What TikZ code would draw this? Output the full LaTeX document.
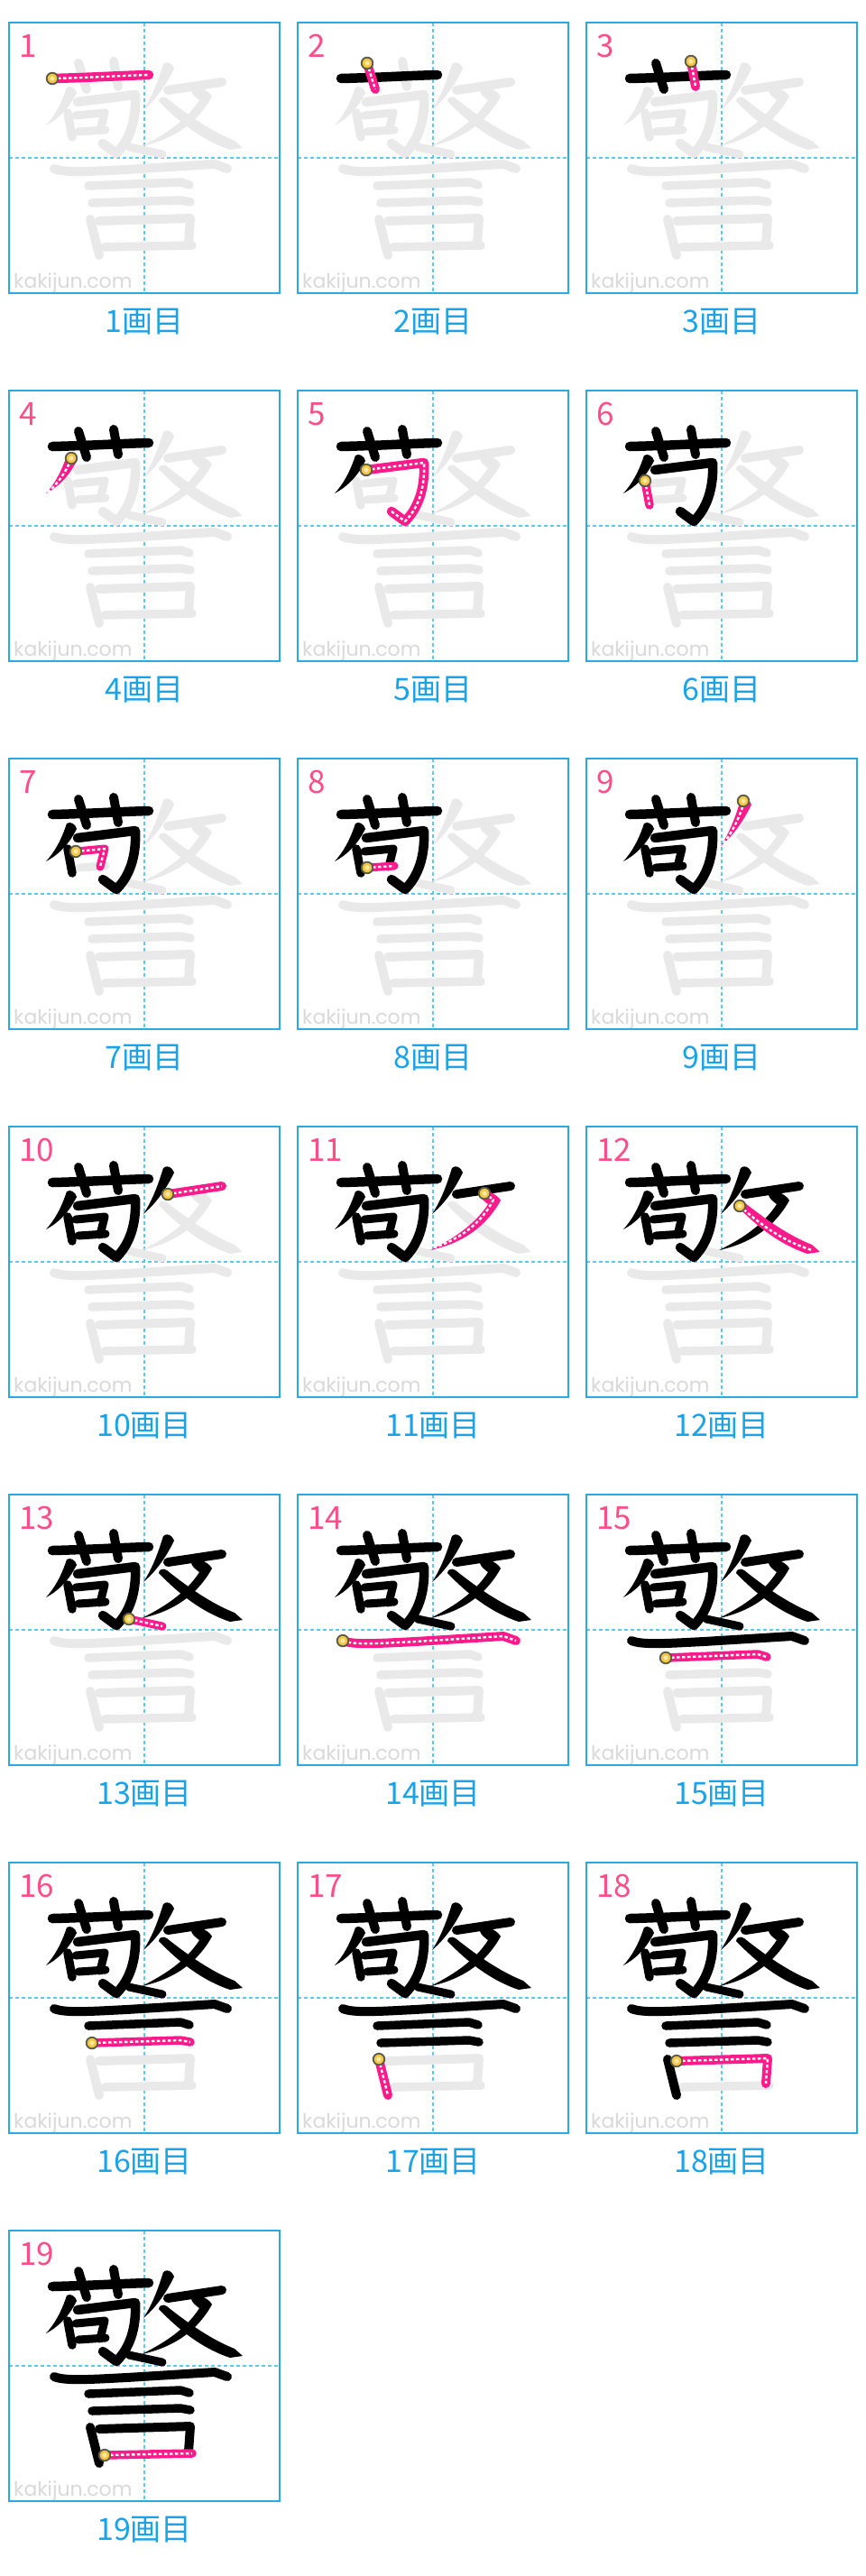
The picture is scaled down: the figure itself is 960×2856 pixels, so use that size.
\documentclass[tikz,border=0pt]{standalone}
\usepackage{fontspec}
\newfontfamily\jp{Noto Sans CJK JP}
\newfontfamily\wmfont{Poppins}
\definecolor{frameblue}{HTML}{29ABE2}
\definecolor{guideblue}{HTML}{5CC8F5}
\definecolor{ghost}{HTML}{E9E9E9}
\definecolor{cur}{HTML}{FF1A8C}
\definecolor{numpink}{HTML}{FF4D88}
\definecolor{labblue}{HTML}{1AA3E8}
\definecolor{dotfill}{HTML}{F2C744}
\definecolor{dotin}{HTML}{FBE7A8}
\definecolor{dotring}{HTML}{5A5A4A}
\definecolor{wmgray}{HTML}{D9D9D9}
% centre line of each stroke
\newcommand\cl[2]{%
\ifcase#1\or
\draw[#2] (48,62) .. controls (90,61) and (120,59) .. (155,58);\or
\draw[#2] (77,45) -- (86,74);\or
\draw[#2] (116,43) -- (121,71);\or
\draw[#2] (69,76) .. controls (62,92) and (54,103) .. (43,113);\or
\draw[#2] (76,88) -- (140,80) .. controls (141,102) and (137,127) .. (119,145) -- (104,134);\or
\draw[#2] (65,100) -- (70,127);\or
\draw[#2] (74,103) -- (106,100) -- (101,120);\or
\draw[#2] (77,121) -- (107,119);\or
\draw[#2] (175,48) .. controls (170,64) and (163,80) .. (152,94);\or
\draw[#2] (176,75) -- (236,66);\or
\draw[#2] (207,74) -- (217,81) .. controls (205,105) and (182,124) .. (152,134);\or
\draw[#2] (170,88) .. controls (190,106) and (215,126) .. (250,137);\or
\draw[#2] (133,138) -- (170,146);\or
\draw[#2] (50,162) .. controls (62,167) and (90,165) .. (130,163) -- (228,157) -- (242,162);\or
\draw[#2] (88,181) -- (190,177) -- (200,180);\or
\draw[#2] (92,200) -- (190,197) -- (201,199);\or
\draw[#2] (90,218) -- (100,258);\or
\draw[#2] (100,220) -- (201,217) -- (199,245);\or
\draw[#2] (106,249) -- (203,247);\fi}
% full shape of each stroke
\newcommand\drawstroke[2]{%
\ifcase#1\or
\cl{1}{#2,line width=10.5pt,lc}\or
\cl{2}{#2,line width=10pt,lc}\or
\cl{3}{#2,line width=10pt,lc}\or
\fill[#2] (64,72) .. controls (58,90) and (51,103) .. (41,114) .. controls (56,106) and (67,94) .. (75,78) .. controls (74,73) and (68,69) .. (64,72) -- cycle;\or
\cl{5}{#2,line width=10.5pt,lc}\or
\cl{6}{#2,line width=9.5pt,lc}\or
\cl{7}{#2,line width=9pt,lc}\or
\cl{8}{#2,line width=9pt,lc}\or
\fill[#2] (171,46) .. controls (166,62) and (160,80) .. (149,97) .. controls (162,86) and (174,70) .. (183,51) .. controls (181,45) and (175,42) .. (171,46) -- cycle;\or
\cl{10}{#2,line width=10pt,lc}\or
\fill[#2] (205,70) .. controls (213,72) and (222,76) .. (225,82) .. controls (210,109) and (185,129) .. (147,137) .. controls (178,122) and (199,105) .. (211,86) .. controls (207,83) and (203,80) .. (202,76) -- cycle;\or
\fill[#2] (166,87) .. controls (189,111) and (215,131) .. (245,141) -- (259,139) -- (250,131) .. controls (225,121) and (200,104) .. (175,84) .. controls (171,81) and (166,83) .. (166,87) -- cycle;\or
\cl{13}{#2,line width=9pt,lc}\or
\cl{14}{#2,line width=10pt,lc}\or
\cl{15}{#2,line width=9.5pt,lc}\or
\cl{16}{#2,line width=9.5pt,lc}\or
\cl{17}{#2,line width=10pt,lc}\or
\cl{18}{#2,line width=10pt,lc}\or
\cl{19}{#2,line width=9.5pt,lc}\fi}
\newcommand\startdot[2]{\fill[dotfill,draw=dotring,line width=1.8pt] (#1,#2) circle[radius=6.3pt];
\fill[dotin] (#1,#2) circle[radius=2.6pt];}
\newcommand\dotat[1]{%
\ifcase#1\or
\startdot{48}{62}\or\startdot{77}{45}\or\startdot{116}{43}\or\startdot{69}{75}\or
\startdot{76}{88}\or\startdot{65}{100}\or\startdot{74}{103}\or\startdot{77}{121}\or
\startdot{174}{47}\or\startdot{176}{75}\or\startdot{207}{74}\or\startdot{170}{88}\or
\startdot{133}{138}\or\startdot{50}{162}\or\startdot{88}{181}\or\startdot{92}{200}\or
\startdot{90}{218}\or\startdot{100}{220}\or\startdot{106}{249}\fi}
\tikzset{
 lc/.style={line cap=round,line join=round},
 guide/.style={guideblue,line width=2pt,dash pattern=on 4pt off 3pt},
 frame/.style={frameblue,line width=1.5pt},
 wd/.style={white,line width=2.4pt,dash pattern=on 3.5pt off 2.5pt,line cap=butt,line join=round},
 num/.style={anchor=base west,text=numpink,font=\jp\fontsize{35}{35}\selectfont,inner sep=0pt},
 lab/.style={text=labblue,font=\jp\fontsize{34}{34}\selectfont,inner sep=0pt},
 wm/.style={anchor=base west,text=wmgray,font=\wmfont\fontsize{22}{22}\selectfont,inner sep=0pt},
}
\begin{document}
\begin{tikzpicture}[x=1pt,y=-1pt]
\useasboundingbox[fill=white] (0,0) rectangle (960,2856);
\foreach \pn in {1,...,19}{
 \pgfmathtruncatemacro\col{mod(\pn-1,3)}
 \pgfmathtruncatemacro\row{(\pn-1)/3}
 \pgfmathtruncatemacro\xo{10+320*\col}
 \pgfmathtruncatemacro\yo{25+408*\row}
 \pgfmathtruncatemacro\km{\pn-1}
 \pgfmathtruncatemacro\kp{\pn+1}
 \begin{scope}[shift={(\xo,\yo)}]
  \draw[guide] (150,0) -- (150,300);
  \draw[guide] (0,150) -- (300,150);
  \node[wm] (wm\pn) at (5,294) {kakijun.com};
  \ifnum\pn<19
   \foreach \sn in {\kp,...,19}{\drawstroke{\sn}{ghost}}
  \fi
  \ifnum\pn>1
   \foreach \sn in {1,...,\km}{\drawstroke{\sn}{black}}
  \fi
  \drawstroke{\pn}{cur}
  \cl{\pn}{wd}
  \dotat{\pn}
  \draw[frame] (0,0) rectangle (300,300);
  \node[num] (num\pn) at (11,38) {\pn};
  \node[lab] (lab\pn) at (150,332) {\pn{}画目};
 \end{scope}
}
\end{tikzpicture}
\end{document}
